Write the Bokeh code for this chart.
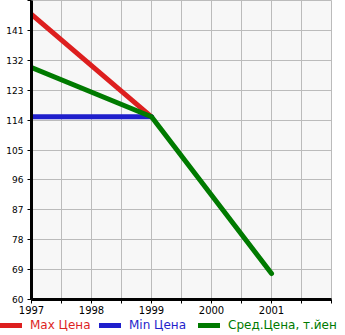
import numpy as np
from bokeh.plotting import figure
from bokeh.models import FixedTicker, Legend, LegendItem, Range1d
from bokeh.layouts import column, row
from bokeh.embed import file_html
from bokeh.resources import INLINE

years_max = [1997, 1999]
max_price = [145.8, 115.0]
years_min = [1997, 1999]
min_price = [115.0, 115.0]
years_avg = [1997, 1999, 2001]
avg_price = [129.8, 115.0, 67.8]

y_ticks = [60, 69, 78, 87, 96, 105, 114, 123, 132, 141, 150]
x_ticks = [1997, 1997.5, 1998, 1998.5, 1999, 1999.5, 2000, 2000.5, 2001, 2001.5, 2002]
x_labels = {1997: "1997", 1998: "1998", 1999: "1999", 2000: "2000", 2001: "2001", 2002: ""}
labels = ["Max Цена", "Min Цена", "Сред.Цена, т.йен"]
colors = ["#dd1f1f", "#1f1fcc", "#007a00"]

p = figure(width=345, height=318, output_backend="svg", toolbar_location=None,
           x_range=Range1d(1997, 2002), y_range=Range1d(60, 150),
           min_border_left=31, min_border_right=14, min_border_top=0, min_border_bottom=19)
p.background_fill_color = "#f7f7f7"
p.border_fill_color = "white"
p.outline_line_color = "#bbbbbb"
p.outline_line_width = 1

p.xaxis.ticker = FixedTicker(ticks=x_ticks)
p.xaxis.major_label_overrides = {1997.5: "", 1998.5: "", 1999.5: "", 2000.5: "", 2001.5: "", **x_labels}
p.yaxis.ticker = FixedTicker(ticks=y_ticks)
p.yaxis.major_label_overrides = {150: ""}

for ax in (p.xaxis[0], p.yaxis[0]):
    ax.axis_line_color = "black"
    ax.axis_line_width = 3
    ax.major_tick_line_color = "black"
    ax.major_tick_line_width = 1
    ax.major_tick_in = 0
    ax.major_tick_out = 4
    ax.minor_tick_line_color = None
    ax.major_label_text_font = "DejaVu Sans"
    ax.major_label_text_color = "black"
p.xaxis.major_label_text_font_size = "10px"
p.yaxis.major_label_text_font_size = "9px"
p.yaxis.major_label_standoff = 4
p.xaxis.major_label_standoff = 2
p.yaxis.major_label_text_baseline = "bottom"

p.xgrid.ticker = FixedTicker(ticks=x_ticks)
p.ygrid.ticker = FixedTicker(ticks=y_ticks)
for g in (p.xgrid[0], p.ygrid[0]):
    g.grid_line_color = "#bbbbbb"
    g.grid_line_width = 1

p.line(years_max, max_price, line_color=colors[0], line_width=5, line_cap="round")
p.line(years_min, min_price, line_color=colors[1], line_width=5, line_cap="round")
p.line(years_avg, avg_price, line_color=colors[2], line_width=5, line_cap="round")

# legend strip below the chart
lp = figure(width=345, height=17, output_backend="svg", toolbar_location=None,
            x_range=Range1d(0, 1), y_range=Range1d(0, 1),
            min_border_left=0, min_border_right=0, min_border_top=0, min_border_bottom=0)
lp.axis.visible = False
lp.grid.visible = False
lp.outline_line_color = None
lp.background_fill_color = "white"
lp.border_fill_color = "white"

nan = np.array([np.nan])
for lab, col, xo in zip(labels, colors, (0, 99, 198)):
    r = lp.line(nan, nan, line_color=col, line_width=5, line_cap="round")
    lg = Legend(items=[LegendItem(label=lab, renderers=[r])], location=(xo, 3),
                orientation="horizontal", padding=0, margin=0, spacing=0,
                glyph_width=22, glyph_height=14, label_standoff=8,
                label_text_font="DejaVu Sans", label_text_font_size="12px",
                label_text_color=col, background_fill_alpha=0, border_line_color=None)
    lp.add_layout(lg, "center")

layout = column(p, row(lp, spacing=0), spacing=0)
open("out.html", "w").write(file_html(layout, INLINE))
